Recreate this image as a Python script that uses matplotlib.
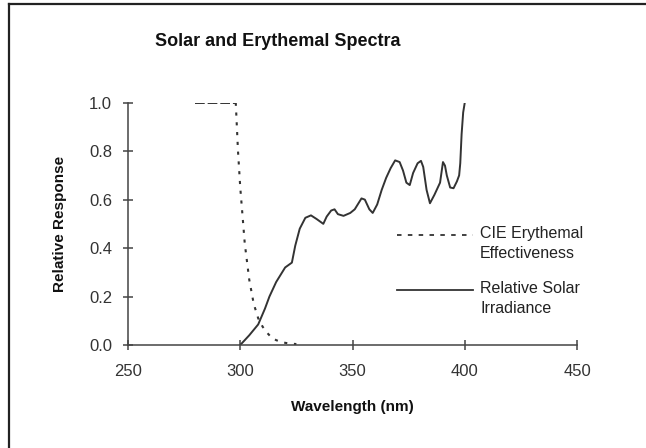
import matplotlib
matplotlib.use("Agg")
import matplotlib.pyplot as plt
from matplotlib.lines import Line2D

# =========================
# Data
# =========================

ery_nm = [280, 298, 299, 300, 302, 304, 306, 308, 310, 312, 314, 316, 318, 320, 322, 325]
ery_val = [1.0, 1.0, 0.80, 0.65, 0.42, 0.27, 0.17, 0.11, 0.075, 0.05, 0.03, 0.02,
           0.013, 0.009, 0.006, 0.004]

sol_nm = [300, 304, 308, 311, 313, 316, 318, 320, 323, 324.5, 326.5, 329, 331.5,
          334, 337, 338.5, 340.5, 342, 343.5, 346, 349, 351, 354, 355.5, 357.5,
          359, 361, 363, 365, 367, 369, 371, 372.5, 374, 375.5, 377, 379, 380.5,
          381.5, 383, 384.5, 386.5, 389, 390.3, 391.2, 392, 393.5, 395, 396.5,
          397.5, 398, 398.6, 399.3, 400]
sol_val = [0.0, 0.04, 0.085, 0.15, 0.2, 0.26, 0.29, 0.32, 0.34, 0.41, 0.48, 0.525,
           0.535, 0.52, 0.50, 0.53, 0.555, 0.56, 0.54, 0.533, 0.545, 0.56, 0.605,
           0.60, 0.56, 0.545, 0.58, 0.64, 0.69, 0.73, 0.762, 0.755, 0.72, 0.67,
           0.66, 0.71, 0.75, 0.76, 0.735, 0.64, 0.585, 0.62, 0.67, 0.755, 0.74,
           0.70, 0.65, 0.647, 0.675, 0.70, 0.75, 0.87, 0.96, 1.0]

x_ticks = [250, 300, 350, 400, 450]
y_ticks = [0.0, 0.2, 0.4, 0.6, 0.8, 1.0]

label_ery = "CIE Erythemal\nEffectiveness"
label_sol = "Relative Solar\nIrradiance"

# =========================
# Figure
# =========================

plt.rcParams["font.family"] = ["Liberation Sans", "DejaVu Sans"]

W, H = 646, 448
fig = plt.figure(figsize=(W / 100, H / 100), dpi=100)
fig.patch.set_facecolor("white")

ax = fig.add_axes([128 / W, 1 - 345 / H, (577 - 128) / W, (345 - 102.7) / H])

line_col = "#333333"

# erythemal curve: flat part renders as dashes, the steep drop as dots
ax.plot(ery_nm[:2], ery_val[:2], color=line_col, linewidth=1.4,
        linestyle=(0, (5, 1.5)))
ax.plot(ery_nm[1:], ery_val[1:], color=line_col, linewidth=1.5,
        linestyle=(0, (1.5, 3.2)))
ax.plot(sol_nm, sol_val, color=line_col, linewidth=1.4)

ax.set_xlim(250, 450)
ax.set_ylim(0, 1.0)
ax.set_xticks(x_ticks)
ax.set_yticks(y_ticks)
ax.set_yticklabels([f"{v:.1f}" for v in y_ticks])

for side in ["top", "right"]:
    ax.spines[side].set_visible(False)
for side in ["left", "bottom"]:
    ax.spines[side].set_color("#444444")
    ax.spines[side].set_linewidth(1.1)

ax.tick_params(direction="inout", length=7, width=1.1, color="#444444",
               labelsize=12, labelcolor="#333333")
ax.tick_params(axis="x", pad=10)
ax.tick_params(axis="y", pad=8)

ax.set_xlabel("Wavelength (nm)", fontsize=11, fontweight="bold",
              color="#111111", labelpad=15)
ax.set_ylabel("Relative Response", fontsize=11, fontweight="bold",
              color="#111111", labelpad=16)

fig.text(278 / W, 1 - 42 / H, "Solar and Erythemal Spectra",
         fontsize=13, fontweight="bold", ha="center", va="center",
         color="#111111")

# =========================
# Legend (drawn by hand)
# =========================

for y_px, style, label in [(235, (0, (2.5, 3.5)), label_ery),
                           (290, "-", label_sol)]:
    yf = 1 - y_px / H
    fig.add_artist(Line2D([397 / W, 473 / W], [yf, yf], color=line_col,
                          linewidth=1.3, linestyle=style))
    fig.text(480 / W, yf + 9 / H, label, fontsize=11.5, color="#222222",
             ha="left", va="top", linespacing=1.45)

# =========================
# Border
# =========================

bx = 9 / W
by = 1 - 4.5 / H
fig.add_artist(Line2D([bx, bx], [0, by], color="#222222", linewidth=1.6))
fig.add_artist(Line2D([bx, 1], [by, by], color="#222222", linewidth=1.6))

fig.savefig("out.png", dpi=100)
